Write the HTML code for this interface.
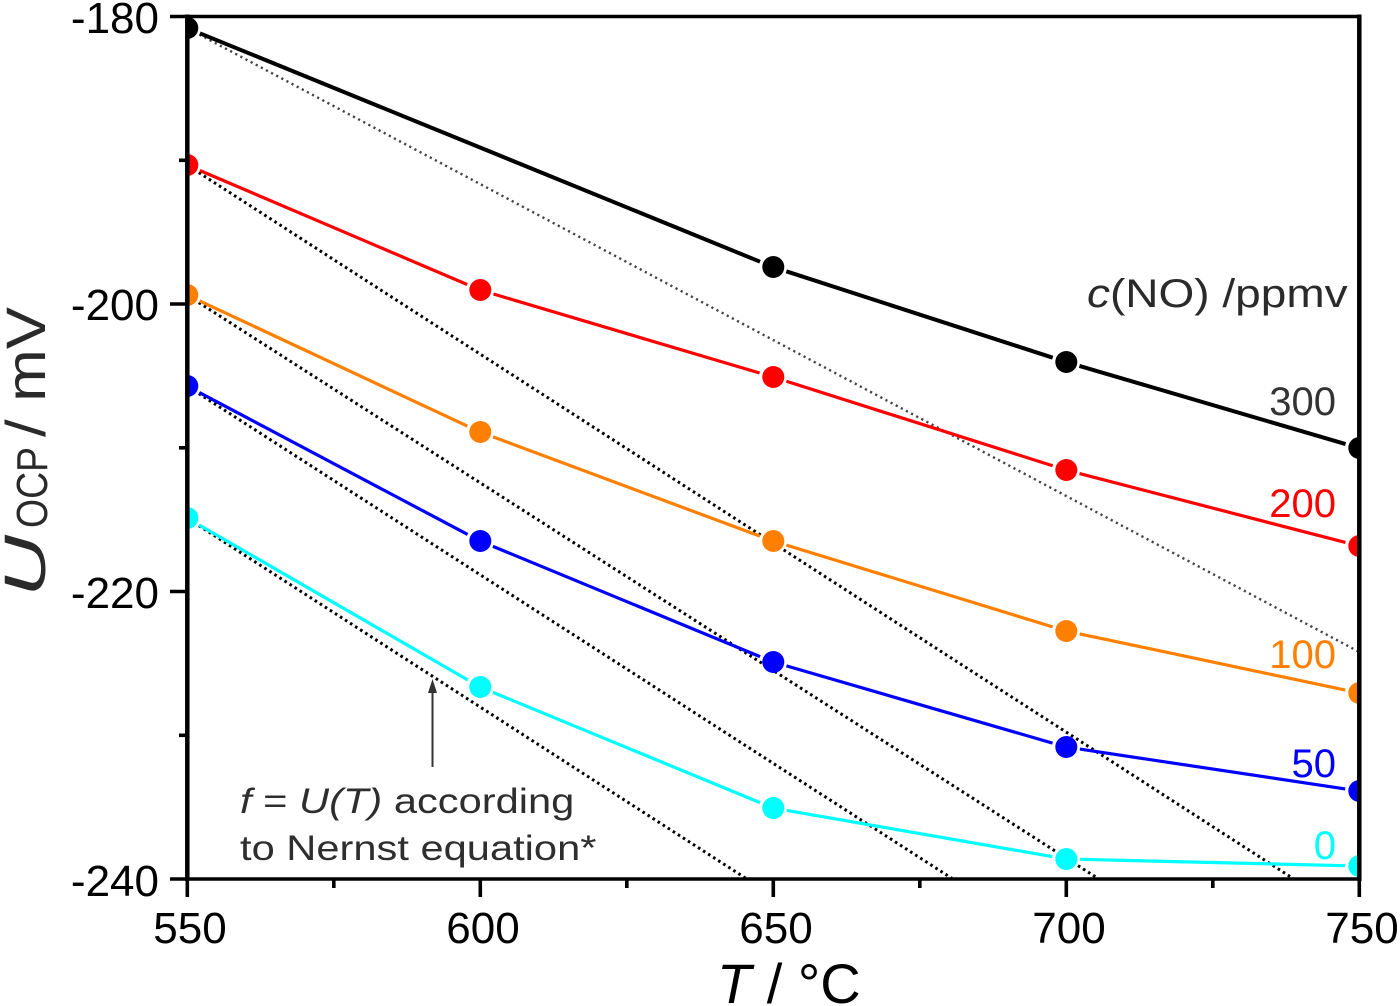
<!DOCTYPE html>
<html>
<head>
<meta charset="utf-8">
<style>
  html, body { margin: 0; padding: 0; background: #fff; }
  svg { display: block; }
  text { font-family: "Liberation Sans", Arial, sans-serif; }
</style>
</head>
<body>
<svg width="1400" height="1006" viewBox="0 0 1400 1006" xmlns="http://www.w3.org/2000/svg">
  <defs>
    <clipPath id="plot">
      <rect x="187.3" y="16.5" width="1172" height="862.5"/>
    </clipPath>
  </defs>

  <g clip-path="url(#plot)">
    <!-- Nernst dotted lines -->
    <line x1="199.4" y1="34.6" x2="1359.3" y2="652" stroke="#444" stroke-width="2.4" stroke-dasharray="2.2 3.6"/>
    <g stroke="#000" stroke-width="3" stroke-dasharray="2.6 3.4" fill="none">
      <line x1="198.8" y1="172.6" x2="1297" y2="881"/>
      <line x1="198.8" y1="302.6" x2="1102" y2="881"/>
      <line x1="198.8" y1="393.6" x2="956" y2="881"/>
      <line x1="198.8" y1="525.6" x2="750" y2="881"/>
    </g>

    <!-- 300 black -->
    <g stroke="#000" stroke-width="4" fill="none">
      <line x1="199.96" y1="33.29" x2="760.04" y2="261.71"/>
      <line x1="786.32" y1="271.32" x2="1052.68" y2="357.68"/>
      <line x1="1079.43" y1="365.94" x2="1345.57" y2="444.06"/>
    </g>
    <!-- 200 red -->
    <g stroke="#ff0000" stroke-width="3.2" fill="none">
      <line x1="199.88" y1="170.49" x2="467.12" y2="284.51"/>
      <line x1="493.42" y1="293.98" x2="759.58" y2="373.02"/>
      <line x1="786.34" y1="381.24" x2="1052.66" y2="465.76"/>
      <line x1="1079.55" y1="473.52" x2="1345.45" y2="542.48"/>
    </g>
    <!-- 100 orange -->
    <g stroke="#ff8000" stroke-width="3.2" fill="none">
      <line x1="199.68" y1="300.93" x2="467.32" y2="426.07"/>
      <line x1="493.12" y1="436.88" x2="759.88" y2="536.12"/>
      <line x1="786.38" y1="545.11" x2="1052.62" y2="626.89"/>
      <line x1="1079.70" y1="633.90" x2="1345.30" y2="690.10"/>
    </g>
    <!-- 50 blue -->
    <g stroke="#0000ff" stroke-width="3.2" fill="none">
      <line x1="199.37" y1="392.55" x2="467.63" y2="534.45"/>
      <line x1="492.94" y1="546.34" x2="760.06" y2="656.66"/>
      <line x1="786.45" y1="665.90" x2="1052.55" y2="743.10"/>
      <line x1="1079.84" y1="749.08" x2="1345.16" y2="788.92"/>
    </g>
    <!-- 0 cyan -->
    <g stroke="#00ffff" stroke-width="3.2" fill="none">
      <line x1="199.13" y1="524.99" x2="467.87" y2="680.01"/>
      <line x1="492.94" y1="692.34" x2="760.06" y2="802.66"/>
      <line x1="786.79" y1="810.40" x2="1052.21" y2="856.60"/>
      <line x1="1079.99" y1="859.33" x2="1345.00" y2="865.67"/>
    </g>

    <!-- markers -->
    <g fill="#000">
      <circle cx="187.3" cy="28" r="11"/>
      <circle cx="773.3" cy="267" r="11"/>
      <circle cx="1066.3" cy="362" r="11"/>
      <circle cx="1359.3" cy="448" r="11"/>
    </g>
    <g fill="#ff0000">
      <circle cx="187.3" cy="165" r="11"/>
      <circle cx="480.3" cy="290" r="11"/>
      <circle cx="773.3" cy="377" r="11"/>
      <circle cx="1066.3" cy="470" r="11"/>
      <circle cx="1359.3" cy="546" r="11"/>
    </g>
    <g fill="#ff8000">
      <circle cx="187.3" cy="295" r="11"/>
      <circle cx="480.3" cy="432" r="11"/>
      <circle cx="773.3" cy="541" r="11"/>
      <circle cx="1066.3" cy="631" r="11"/>
      <circle cx="1359.3" cy="693" r="11"/>
    </g>
    <g fill="#0000ff">
      <circle cx="187.3" cy="386" r="11"/>
      <circle cx="480.3" cy="541" r="11"/>
      <circle cx="773.3" cy="662" r="11"/>
      <circle cx="1066.3" cy="747" r="11"/>
      <circle cx="1359.3" cy="791" r="11"/>
    </g>
    <g fill="#00ffff">
      <circle cx="187.3" cy="518" r="11"/>
      <circle cx="480.3" cy="687" r="11"/>
      <circle cx="773.3" cy="808" r="11"/>
      <circle cx="1066.3" cy="859" r="11"/>
      <circle cx="1359.3" cy="866" r="11"/>
    </g>
  </g>

  <!-- frame -->
  <g stroke="#000" fill="none">
    <line x1="187.3" y1="14.5" x2="187.3" y2="881" stroke-width="4.5"/>
    <line x1="1359.3" y1="14.5" x2="1359.3" y2="881" stroke-width="4.5"/>
    <line x1="185" y1="16.5" x2="1361.5" y2="16.5" stroke-width="3.6"/>
    <line x1="185" y1="879" x2="1361.5" y2="879" stroke-width="3.6"/>
  </g>
  <!-- ticks -->
  <g stroke="#000" stroke-width="3.6">
    <line x1="170" y1="16.5" x2="187" y2="16.5"/>
    <line x1="170" y1="304" x2="187" y2="304"/>
    <line x1="170" y1="591.5" x2="187" y2="591.5"/>
    <line x1="170" y1="879" x2="187" y2="879"/>
    <line x1="179" y1="160.3" x2="187" y2="160.3"/>
    <line x1="179" y1="447.8" x2="187" y2="447.8"/>
    <line x1="179" y1="735.3" x2="187" y2="735.3"/>

    <line x1="187.3" y1="879" x2="187.3" y2="897"/>
    <line x1="480.3" y1="879" x2="480.3" y2="897"/>
    <line x1="773.3" y1="879" x2="773.3" y2="897"/>
    <line x1="1066.3" y1="879" x2="1066.3" y2="897"/>
    <line x1="1359.3" y1="879" x2="1359.3" y2="897"/>
    <line x1="333.8" y1="879" x2="333.8" y2="888"/>
    <line x1="626.8" y1="879" x2="626.8" y2="888"/>
    <line x1="919.8" y1="879" x2="919.8" y2="888"/>
    <line x1="1212.8" y1="879" x2="1212.8" y2="888"/>
  </g>

  <!-- y tick labels -->
  <g font-size="44" fill="#000" text-anchor="end">
    <text x="159" y="33">-180</text>
    <text x="159" y="320">-200</text>
    <text x="159" y="608">-220</text>
    <text x="159" y="896">-240</text>
  </g>
  <!-- x tick labels -->
  <g font-size="44" fill="#000" text-anchor="middle">
    <text x="190" y="943">550</text>
    <text x="483" y="943">600</text>
    <text x="776" y="943">650</text>
    <text x="1069" y="943">700</text>
    <text x="1362" y="943">750</text>
  </g>

  <!-- x title -->
  <text x="717" y="1003" font-size="56" fill="#000"><tspan font-style="italic">T</tspan> / °C</text>

  <!-- y title -->
  <g transform="translate(45,597) rotate(-90)" fill="#2a2a2a">
    <text x="0" y="0" font-size="58" font-style="italic" textLength="62" lengthAdjust="spacingAndGlyphs">U</text>
    <text x="69" y="2" font-size="44" textLength="81" lengthAdjust="spacingAndGlyphs">OCP</text>
    <text x="160" y="0" font-size="56" textLength="130" lengthAdjust="spacingAndGlyphs">/ mV</text>
  </g>

  <!-- legend title -->
  <text transform="translate(1087,307) scale(1.15,1)" font-size="40" fill="#2a2a2a"><tspan font-style="italic">c</tspan>(NO) /ppmv</text>

  <!-- series labels -->
  <g font-size="40" text-anchor="end">
    <text x="1336" y="415" fill="#333">300</text>
    <text x="1336" y="517" fill="#ff0000">200</text>
    <text x="1336" y="668" fill="#ff8000">100</text>
    <text x="1336" y="777" fill="#0000ff">50</text>
    <text x="1336" y="859" fill="#00ffff">0</text>
  </g>

  <!-- annotation -->
  <line x1="432.5" y1="767" x2="432.5" y2="690" stroke="#333" stroke-width="2"/>
  <polygon points="432.5,679 428,693 437,693" fill="#333"/>
  <text transform="translate(240,813) scale(1.19,1)" font-size="35" fill="#2e2e2e"><tspan font-style="italic">f</tspan> = <tspan font-style="italic">U(T)</tspan> according</text>
  <text transform="translate(240,860) scale(1.19,1)" font-size="35" fill="#2e2e2e">to Nernst equation*</text>
</svg>
</body>
</html>
